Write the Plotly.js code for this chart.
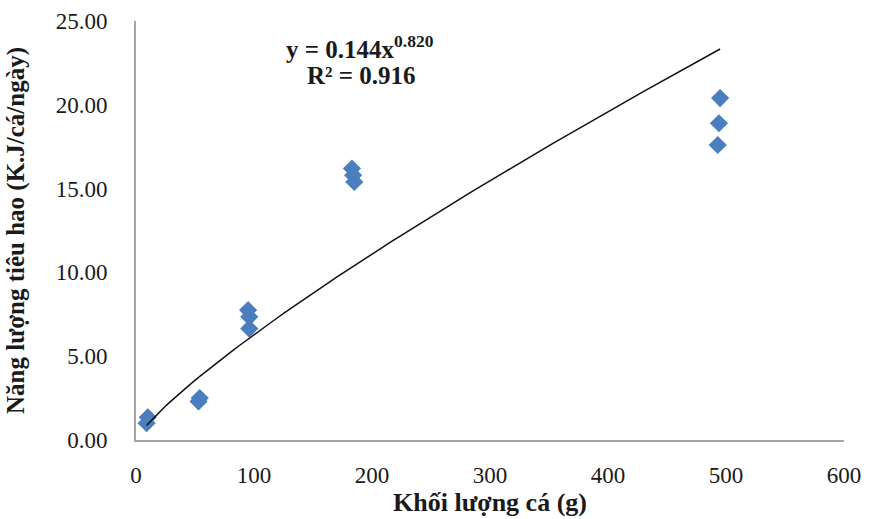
<!DOCTYPE html>
<html>
<head>
<meta charset="utf-8">
<script src="https://cdn.plot.ly/plotly-3.0.1.min.js"></script>
<style>html,body{margin:0;padding:0;background:#fff;}#chart{width:870px;height:519px;}</style>
</head>
<body>
<div id="chart"></div>
<script>
// Observed data (fish mass in g, energy use in KJ/fish/day)
const massG = [9, 10, 53, 54, 95, 96, 96, 183, 184, 185, 495, 494, 493];
const energyKJ = [1.0, 1.35, 2.3, 2.5, 7.75, 7.35, 6.65, 16.2, 15.8, 15.4, 20.4, 18.9, 17.6];

// Power trendline coefficients shown on the chart
const fitA = 0.144;
const fitB = 0.820;
const fitR2 = 0.916;

const xTicks = [0, 100, 200, 300, 400, 500, 600];
const yTicks = [0, 5, 10, 15, 20, 25];
const yTickText = yTicks.map(v => v.toFixed(2));

// Trendline drawn across the data range from the displayed equation
const xmin = Math.min(...massG), xmax = Math.max(...massG);
const trendX = [], trendY = [];
for (let i = 0; i <= 100; i++) {
  const x = xmin + (xmax - xmin) * i / 100;
  trendX.push(x);
  trendY.push(fitA * Math.pow(x, fitB));
}

const serif = '"Liberation Serif", "Times New Roman", serif';

const data = [
  {
    x: massG, y: energyKJ, type: 'scatter', mode: 'markers',
    marker: {symbol: 'diamond', size: 14, color: '#4a7ebf'},
    hoverinfo: 'x+y', showlegend: false
  },
  {
    x: trendX, y: trendY, type: 'scatter', mode: 'lines',
    line: {color: '#111111', width: 1.5},
    hoverinfo: 'skip', showlegend: false
  }
];

const layout = {
  width: 870, height: 519,
  margin: {l: 136, r: 26, t: 21, b: 79},
  paper_bgcolor: '#ffffff', plot_bgcolor: '#ffffff',
  showlegend: false,
  font: {family: serif, color: '#1a1a1a', size: 23},
  xaxis: {
    range: [0, 600], tickvals: xTicks, ticktext: xTicks.map(String),
    showgrid: false, zeroline: false, showline: true, linecolor: '#a6a6a6', linewidth: 2,
    ticks: '', ticklabelstandoff: 13,
    tickfont: {family: serif, size: 23, color: '#1a1a1a'},
    title: {text: '<b>Khối lượng cá (g)</b>', font: {family: serif, size: 26, color: '#1a1a1a'}, standoff: 4}
  },
  yaxis: {
    range: [0, 25], tickvals: yTicks, ticktext: yTickText,
    showgrid: false, zeroline: false, showline: true, linecolor: '#a6a6a6', linewidth: 2,
    ticks: '', ticklabelstandoff: 22,
    tickfont: {family: serif, size: 23, color: '#1a1a1a'},
    title: {text: '<b>Năng lượng tiêu hao (K.J/cá/ngày)</b>', font: {family: serif, size: 25, color: '#1a1a1a'}, standoff: 24}
  },
  annotations: [
    {
      xref: 'paper', yref: 'paper', x: 0.316, y: 0.938, xanchor: 'center', yanchor: 'middle',
      text: '<b>y = ' + fitA.toFixed(3) + 'x<sup>' + fitB.toFixed(3) + '</sup></b>',
      showarrow: false, font: {family: serif, size: 25, color: '#1a1a1a'}
    },
    {
      xref: 'paper', yref: 'paper', x: 0.318, y: 0.869, xanchor: 'center', yanchor: 'middle',
      text: '<b>R² = ' + fitR2.toFixed(3) + '</b>',
      showarrow: false, font: {family: serif, size: 25, color: '#1a1a1a'}
    }
  ]
};

Plotly.newPlot('chart', data, layout, {staticPlot: true, displayModeBar: false});
</script>
</body>
</html>
